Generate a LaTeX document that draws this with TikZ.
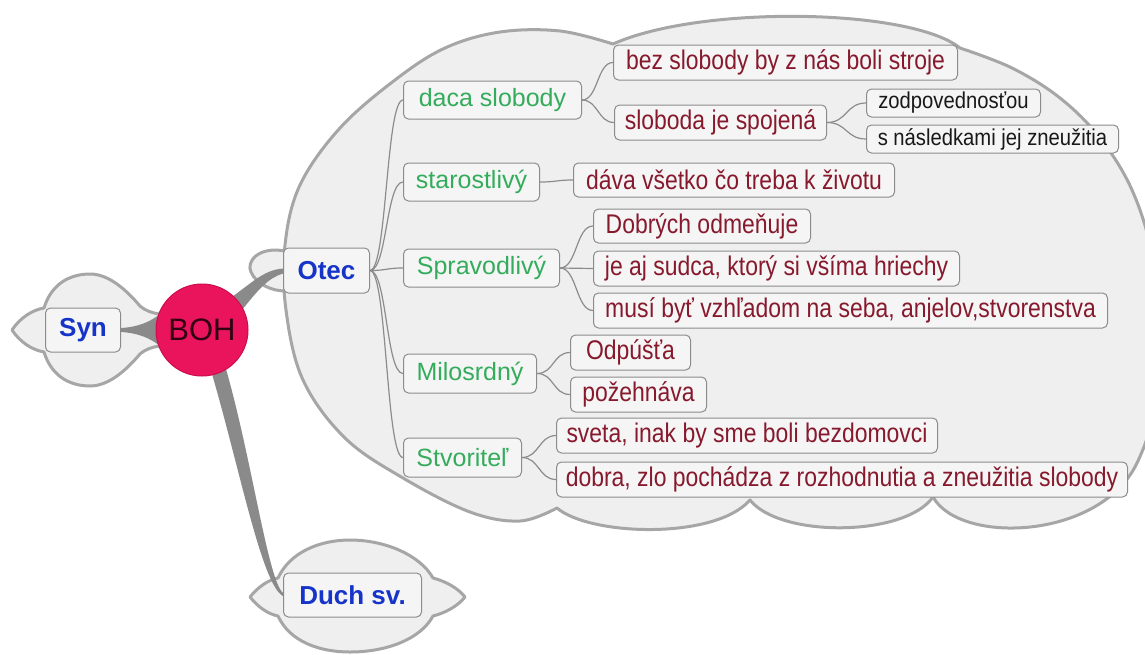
\documentclass[tikz,border=0pt]{standalone}
\usepackage{fontspec}
\setmainfont{Liberation Sans}
\newfontfamily\narrowfont[FakeStretch=0.85]{Liberation Sans}
\newfontfamily\smallnarrow[FakeStretch=0.88]{Liberation Sans}
\usetikzlibrary{calc}
\definecolor{cloudfill}{RGB}{239,239,239}
\definecolor{cloudline}{RGB}{166,166,166}
\definecolor{boxfill}{RGB}{245,245,245}
\definecolor{boxline}{RGB}{140,140,140}
\definecolor{linkgray}{RGB}{140,140,140}
\definecolor{bandgray}{RGB}{138,138,138}
\definecolor{bluetxt}{RGB}{22,52,200}
\definecolor{greentxt}{RGB}{52,172,92}
\definecolor{redtxt}{RGB}{135,25,45}
\definecolor{blacktxt}{RGB}{25,25,25}
\definecolor{bohfill}{RGB}{234,20,92}
\definecolor{bohline}{RGB}{205,12,75}
\definecolor{bohtxt}{RGB}{50,0,20}
\begin{document}
\begin{tikzpicture}[x=1pt,y=-1pt,
 box/.style={draw=boxline, line width=1pt, fill=boxfill, rounded corners=5pt, inner sep=0pt, anchor=west},
 lvlone/.style={box, text=bluetxt, font=\fontsize{26}{30}\selectfont\bfseries},
 lvltwo/.style={box, text=greentxt, font=\fontsize{25}{30}\selectfont},
 lvlthree/.style={box, text=redtxt, font=\narrowfont\fontsize{27}{30}\selectfont},
 lvlfour/.style={box, text=blacktxt, font=\smallnarrow\fontsize{23}{26}\selectfont},
 cloudshape/.style={fill=cloudfill, draw=cloudline, line width=3pt, line join=round},
 link/.style={draw=linkgray, line width=1.2pt},
 band/.style={fill=bandgray, draw=none}]
\useasboundingbox (0,0) rectangle (1145,654);
\fill[white] (0,0) rectangle (1145,654);
\clip (0,0) rectangle (1145,654);

% big cloud around Otec
\path[cloudshape] (613,44) .. controls (700,5) and (910,8) .. (960,48)
 -- plot[smooth,tension=.6] coordinates {(960,48) (1012,68) (1060,98) (1100,138) (1132,190) (1152,255) (1160,340) (1152,420) (1137,463)}
 .. controls (1100,540) and (960,545) .. (933,497)
 .. controls (905,537) and (780,538) .. (750,500)
 .. controls (715,540) and (590,536) .. (557,508)
 -- plot[smooth,tension=.6] coordinates {(557,508) (520,521) (470,512) (403,478) (345,438) (303,380) (286,310) (285,245) (300,185) (340,128) (395,80) (445,48) (500,32) (560,31) (613,44)}
 -- cycle;

% Otec lobe
\path[fill=cloudfill] (285,251) .. controls (258,246) and (246,262) .. (251,272) .. controls (256,284) and (272,291) .. (285,291) -- cycle;
\draw[cloudline, line width=3pt] (285,251) .. controls (258,246) and (246,262) .. (251,272) .. controls (256,284) and (272,291) .. (285,291);

% Syn cloud
\path[cloudshape] (12,330) .. controls (20,318) and (32,310) .. (44,308)
 .. controls (52,282) and (72,274) .. (90,274)
 .. controls (110,274) and (128,292) .. (140,306)
 .. controls (146,311) and (152,313) .. (160,314)
 -- (160,346)
 .. controls (152,347) and (146,349) .. (140,354)
 .. controls (128,368) and (110,386) .. (90,386)
 .. controls (72,386) and (52,378) .. (44,352)
 .. controls (32,350) and (20,342) .. (12,330) -- cycle;

% Duch cloud
\path[cloudshape] (250,597) .. controls (258,587) and (268,580) .. (278,578)
 .. controls (290,552) and (320,540) .. (350,540)
 .. controls (385,540) and (420,555) .. (433,578)
 .. controls (445,581) and (458,588) .. (465,597)
 .. controls (458,606) and (445,613) .. (433,616)
 .. controls (420,640) and (385,652) .. (350,652)
 .. controls (320,652) and (290,642) .. (278,616)
 .. controls (268,614) and (258,607) .. (250,597) -- cycle;

% level one nodes
\node[lvlone, minimum width=75pt, minimum height=44pt] (syn) at (45,330) {Syn};
\node[lvlone, minimum width=86pt, minimum height=45pt] (otec) at (283,270.5) {Otec};
\node[lvlone, minimum width=138pt, minimum height=44pt] (duch) at (283,595) {Duch sv.};
\coordinate (bohc) at (202,330);

% thick bands
\fill[band] ($(syn.east)+(0,-2)$) .. controls (138,327) and (150,322) .. ($(bohc)+(-42,-16)$)
 -- ($(bohc)+(-42,16)$) .. controls (150,338) and (138,333) .. ($(syn.east)+(0,2)$) -- cycle;
\fill[band] ($(bohc)+(30,-33)$) .. controls (255,280) and (265,270) .. ($(otec.west)+(0,-2)$)
 -- ($(otec.west)+(0,3)$) .. controls (268,278) and (258,290) .. ($(bohc)+(40,-20)$) -- cycle;
\fill[band] ($(bohc)+(10,44)$) .. controls (240,470) and (262,585) .. ($(duch.west)+(0,1)$)
 -- ($(duch.west)+(0,-2)$) .. controls (268,580) and (252,460) .. ($(bohc)+(24,39)$) -- cycle;

\node[circle, fill=bohfill, draw=bohline, line width=1pt, minimum size=92pt, inner sep=0pt,
 text=bohtxt, font=\fontsize{31}{34}\selectfont] (boh) at (bohc) {BOH};

% level two
\node[lvltwo, minimum width=178pt, minimum height=38pt] (daca) at (403,100) {daca slobody};
\node[lvltwo, minimum width=136pt, minimum height=38pt] (star) at (403,182) {starostlivý};
\node[lvltwo, minimum width=156pt, minimum height=38pt] (sprav) at (403,268) {Spravodlivý};
\node[lvltwo, minimum width=133pt, minimum height=39pt] (milo) at (403,373.5) {Milosrdný};
\node[lvltwo, minimum width=118pt, minimum height=39pt] (stvo) at (403,457.5) {Stvoriteľ};

% level three
\node[lvlthree, minimum width=344pt, minimum height=35pt] (bez) at (613,62.5) {bez slobody by z nás boli stroje};
\node[lvlthree, minimum width=212pt, minimum height=35pt] (slob) at (614,122.5) {sloboda je spojená};
\node[lvlthree, minimum width=321pt, minimum height=34pt] (dava) at (573,180) {dáva všetko čo treba k životu};
\node[lvlthree, minimum width=217pt, minimum height=34pt] (dobr) at (593,226) {Dobrých odmeňuje};
\node[lvlthree, minimum width=366pt, minimum height=35pt] (jeaj) at (593,268.5) {je aj sudca, ktorý si všíma hriechy};
\node[lvlthree, minimum width=514pt, minimum height=35pt] (musi) at (593,310.5) {musí byť vzhľadom na seba, anjelov,stvorenstva};
\node[lvlthree, minimum width=120pt, minimum height=35pt] (odpu) at (570,352.5) {Odpúšťa};
\node[lvlthree, minimum width=136pt, minimum height=35pt] (poze) at (570,394.5) {požehnáva};
\node[lvlthree, minimum width=381pt, minimum height=35pt] (svet) at (556,435.5) {sveta, inak by sme boli bezdomovci};
\node[lvlthree, minimum width=571pt, minimum height=35pt] (dobra) at (556,479.5) {dobra, zlo pochádza z rozhodnutia a zneužitia slobody};

% level four
\node[lvlfour, minimum width=174pt, minimum height=28pt] (zodp) at (866,103) {zodpovednosťou};
\node[lvlfour, minimum width=252pt, minimum height=28pt] (snas) at (866,139) {s následkami jej zneužitia};

% thin links
\foreach \c in {daca,star,sprav,milo,stvo}
  \draw[link] (otec.east) .. controls +(17,0) and +(-17,0) .. (\c.west);
\foreach \c in {bez,slob}
  \draw[link] (daca.east) .. controls +(16,0) and +(-16,0) .. (\c.west);
\foreach \c in {zodp,snas}
  \draw[link] (slob.east) .. controls +(20,0) and +(-20,0) .. (\c.west);
\draw[link] (star.east) .. controls +(17,0) and +(-17,0) .. (dava.west);
\foreach \c in {dobr,jeaj,musi}
  \draw[link] (sprav.east) .. controls +(17,0) and +(-17,0) .. (\c.west);
\foreach \c in {odpu,poze}
  \draw[link] (milo.east) .. controls +(17,0) and +(-17,0) .. (\c.west);
\foreach \c in {svet,dobra}
  \draw[link] (stvo.east) .. controls +(17,0) and +(-17,0) .. (\c.west);
\end{tikzpicture}
\end{document}
